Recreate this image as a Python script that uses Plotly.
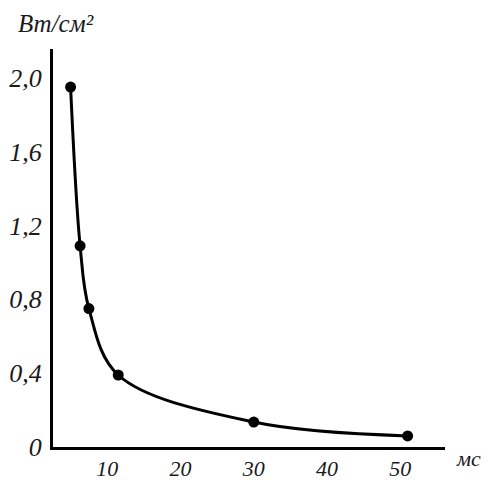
import plotly.graph_objects as go

# Data
time_ms = [5.0, 6.3, 7.5, 11.5, 30.0, 51.0]
power_w_cm2 = [1.95, 1.09, 0.75, 0.39, 0.135, 0.06]

x_tick_vals = [10, 20, 30, 40, 50]
x_tick_text = ["10", "20", "30", "40", "50"]
y_tick_vals = [0, 0.4, 0.8, 1.2, 1.6, 2.0]
y_tick_text = ["0", "0,4", "0,8", "1,2", "1,6", "2,0"]

y_title = "Вт/см²"
x_title = "мс"

FONT = "Liberation Serif, Times New Roman, serif"


def ital(labels):
    return ["<i>" + s + "</i>" for s in labels]


fig = go.Figure()
fig.add_trace(go.Scatter(
    x=time_ms, y=power_w_cm2,
    mode="lines+markers",
    line=dict(color="black", width=3, shape="spline", smoothing=1.0),
    marker=dict(color="black", size=11),
    showlegend=False,
    cliponaxis=False,
))

fig.update_layout(
    width=488, height=480,
    margin=dict(l=53, r=43, t=49, b=33, autoexpand=False),
    paper_bgcolor="white", plot_bgcolor="white",
    xaxis=dict(
        range=[2.6, 56.1],
        tickvals=x_tick_vals, ticktext=ital(x_tick_text),
        showgrid=False, zeroline=False,
        showline=True, linecolor="black", linewidth=3,
        ticks="", ticklabelstandoff=0, automargin=False,
        tickfont=dict(family=FONT, size=22, color="#1a1a1a"),
    ),
    yaxis=dict(
        range=[0, 2.156],
        tickvals=y_tick_vals, ticktext=ital(y_tick_text),
        showgrid=False, zeroline=False,
        showline=True, linecolor="black", linewidth=3,
        ticks="", ticklabelstandoff=3, automargin=False,
        tickfont=dict(family=FONT, size=26, color="#1a1a1a"),
    ),
    annotations=[
        dict(text="<i>" + y_title + "</i>", xref="paper", yref="paper",
             x=-0.095, y=1.025, xanchor="left", yanchor="bottom",
             showarrow=False,
             font=dict(family=FONT, size=25, color="#1a1a1a")),
        dict(text="<i>" + x_title + "</i>", xref="paper", yref="paper",
             x=1.061, y=-0.03, xanchor="center", yanchor="middle",
             showarrow=False,
             font=dict(family=FONT, size=22, color="#1a1a1a")),
    ],
)

fig.write_html("out.html")
